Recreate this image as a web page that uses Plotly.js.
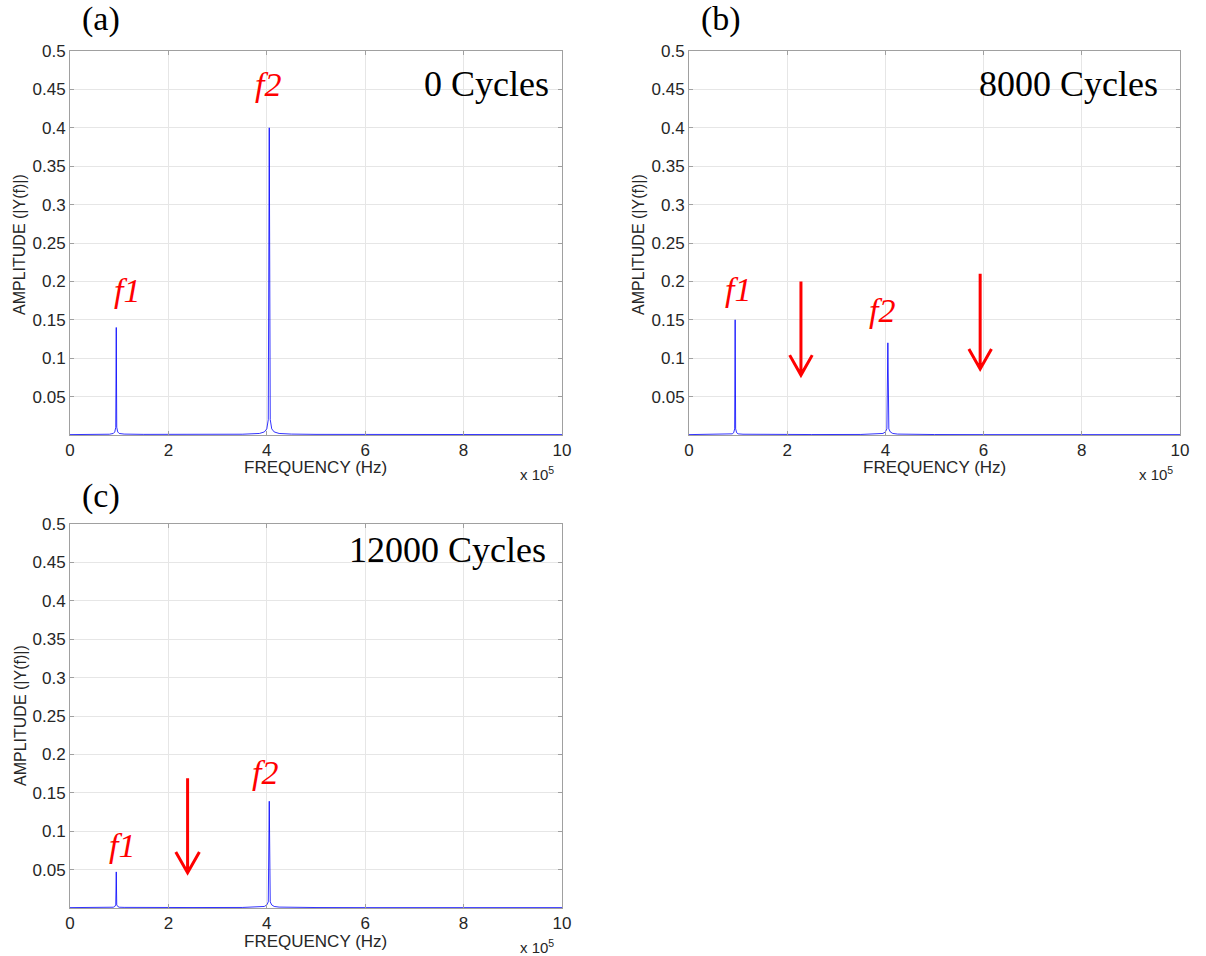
<!DOCTYPE html>
<html>
<head>
<meta charset="utf-8">
<script src="https://cdn.plot.ly/plotly-3.0.1.min.js"></script>
<style>html,body{margin:0;padding:0;background:#fff;}#chart{width:1206px;height:956px;}</style>
</head>
<body>
<div id="chart"></div>
<script>
// Frequency axis (units of 1e5 Hz)
var freq = [0, 0.5, 0.8, 0.88, 0.91, 0.93, 0.94, 0.95, 0.97, 1.0, 1.1, 1.5, 2.5, 3.5, 3.85, 3.95, 4.0, 4.03, 4.05, 4.07, 4.1, 4.15, 4.25, 4.5, 5.0, 6, 8, 10];
// Amplitudes |Y(f)| for each panel
var ampA = [0.0005,0.0006,0.001,0.002,0.004,0.01,0.14,0.01,0.004,0.002,0.0012,0.0008,0.0008,0.001,0.002,0.004,0.008,0.02,0.40,0.02,0.008,0.004,0.002,0.0012,0.0008,0.0006,0.0005,0.0005];
var ampB = [0.0005,0.0006,0.001,0.0015,0.003,0.008,0.15,0.008,0.003,0.0015,0.001,0.0007,0.0006,0.0007,0.0012,0.002,0.004,0.008,0.12,0.008,0.004,0.002,0.0012,0.0008,0.0006,0.0005,0.0005,0.0005];
var ampC = [0.0005,0.0005,0.0008,0.001,0.002,0.004,0.047,0.004,0.002,0.001,0.0008,0.0006,0.0006,0.0007,0.001,0.002,0.004,0.008,0.139,0.008,0.004,0.002,0.0012,0.0008,0.0006,0.0005,0.0005,0.0005];

var xTicks = [0, 2, 4, 6, 8, 10];
var xTickText = ['0', '2', '4', '6', '8', '10'];
var yTicks = [0.05, 0.1, 0.15, 0.2, 0.25, 0.3, 0.35, 0.4, 0.45, 0.5];
var yTickText = ['0.05', '0.1', '0.15', '0.2', '0.25', '0.3', '0.35', '0.4', '0.45', '0.5'];
var panelLabels = ['(a)', '(b)', '(c)'];
var cycleLabels = ['0 Cycles', '8000 Cycles', '12000 Cycles'];

var W = 1206, H = 956;
function px(x) { return x / W; }
function py(y) { return 1 - y / H; }

var lineStyle = {color: 'rgba(0,0,255,0.8)', width: 1};
var traces = [
  {x: freq, y: ampA, type: 'scatter', mode: 'lines', line: lineStyle, xaxis: 'x', yaxis: 'y', hoverinfo: 'x+y'},
  {x: freq, y: ampB, type: 'scatter', mode: 'lines', line: lineStyle, xaxis: 'x2', yaxis: 'y2', hoverinfo: 'x+y'},
  {x: freq, y: ampC, type: 'scatter', mode: 'lines', line: lineStyle, xaxis: 'x3', yaxis: 'y3', hoverinfo: 'x+y'}
];

var sans = 'Liberation Sans';
var serif = 'Liberation Serif';
var tickFont = {family: sans, size: 17, color: '#262626'};
function xAxis(domain, anchor) {
  return {domain: domain, anchor: anchor, range: [0, 10], tickvals: xTicks, ticktext: xTickText,
    showgrid: true, gridcolor: '#e6e6e6', gridwidth: 1, zeroline: false,
    showline: true, linecolor: '#a0a0a0', linewidth: 1, mirror: 'ticks',
    ticks: 'inside', ticklen: 4, tickcolor: '#a0a0a0', tickfont: tickFont, fixedrange: true};
}
function yAxis(domain, anchor) {
  return {domain: domain, anchor: anchor, range: [0, 0.5], tickvals: yTicks, ticktext: yTickText,
    showgrid: true, gridcolor: '#e6e6e6', gridwidth: 1, zeroline: false,
    showline: true, linecolor: '#a0a0a0', linewidth: 1, mirror: 'ticks',
    ticks: 'inside', ticklen: 4, tickcolor: '#a0a0a0', tickfont: tickFont, fixedrange: true};
}

var leftDom = [px(70), px(562)];
var rightDom = [px(689), px(1180)];
var topDom = [py(435), py(51)];
var botDom = [py(908), py(524)];

var annotations = [];
function ann(text, x, y, font, extra) {
  var a = {text: text, x: px(x), y: py(y), xref: 'paper', yref: 'paper', showarrow: false,
    xanchor: 'center', yanchor: 'middle', font: font};
  for (var k in extra) a[k] = extra[k];
  annotations.push(a);
}
var labFont = {family: serif, size: 34, color: '#000'};
var cycFont = {family: serif, size: 36, color: '#000'};
var fFont = {family: serif, size: 34, color: '#ff0000', style: 'italic'};
var axFont = {family: sans, size: 17, color: '#262626'};
var ayFont = {family: sans, size: 16, color: '#262626'};
var expFont = {family: sans, size: 15, color: '#262626'};

// panel (a)
ann(panelLabels[0], 101, 19, labFont);
ann(cycleLabels[0], 551, 84, cycFont, {xanchor: 'right'});
ann('f2', 268, 85, fFont);
ann('f1', 127, 290, fFont);
ann('FREQUENCY (Hz)', 316, 467, axFont);
ann('x 10<sup>5</sup>', 537, 473, expFont);
ann('AMPLITUDE (|Y(f)|)', 20, 245, ayFont, {textangle: -90});
// panel (b)
ann(panelLabels[1], 721, 19, labFont);
ann(cycleLabels[1], 1160, 84, cycFont, {xanchor: 'right'});
ann('f1', 738, 289, fFont);
ann('f2', 882, 310, fFont);
ann('FREQUENCY (Hz)', 934, 467, axFont);
ann('x 10<sup>5</sup>', 1156, 473, expFont);
ann('AMPLITUDE (|Y(f)|)', 639, 245, ayFont, {textangle: -90});
// panel (c)
ann(panelLabels[2], 101, 496, labFont);
ann(cycleLabels[2], 548, 550, cycFont, {xanchor: 'right'});
ann('f1', 122, 845, fFont);
ann('f2', 265, 772, fFont);
ann('FREQUENCY (Hz)', 316, 941, axFont);
ann('x 10<sup>5</sup>', 537, 946, expFont);
ann('AMPLITUDE (|Y(f)|)', 20, 716, ayFont, {textangle: -90});

// arrows (open V heads) drawn as shapes in axis coordinates
function arrowPath(x, yTop, yBot, hw, hh) {
  return 'M ' + x + ',' + yTop + ' L ' + x + ',' + yBot +
    ' M ' + (x - hw) + ',' + (yBot + hh) + ' L ' + x + ',' + yBot + ' L ' + (x + hw) + ',' + (yBot + hh);
}
var arrowLine = {color: '#ff0000', width: 3};
var shapes = [
  {type: 'path', xref: 'x2', yref: 'y2', path: arrowPath(2.28, 0.2, 0.078, 0.23, 0.026), line: arrowLine},
  {type: 'path', xref: 'x2', yref: 'y2', path: arrowPath(5.93, 0.21, 0.086, 0.23, 0.026), line: arrowLine},
  {type: 'path', xref: 'x3', yref: 'y3', path: arrowPath(2.39, 0.169, 0.046, 0.24, 0.027), line: arrowLine}
];

var layout = {
  width: W, height: H,
  margin: {l: 0, r: 0, t: 0, b: 0},
  paper_bgcolor: '#fff', plot_bgcolor: '#fff',
  showlegend: false,
  xaxis: xAxis(leftDom, 'y'), yaxis: yAxis(topDom, 'x'),
  xaxis2: xAxis(rightDom, 'y2'), yaxis2: yAxis(topDom, 'x2'),
  xaxis3: xAxis(leftDom, 'y3'), yaxis3: yAxis(botDom, 'x3'),
  annotations: annotations,
  shapes: shapes
};
Plotly.newPlot('chart', traces, layout, {displayModeBar: false, staticPlot: true});
</script>
</body>
</html>
